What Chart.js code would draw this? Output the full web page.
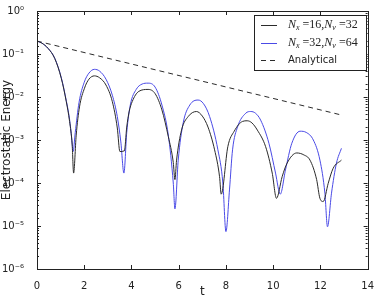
<!DOCTYPE html>
<html>
<head>
<meta charset="utf-8">
<script src="https://cdn.jsdelivr.net/npm/chart.js@4.4.0/dist/chart.umd.min.js"></script>
<style>
    html, body { margin: 0; padding: 0; background: #fff; }
    #caixa { width: 377px; height: 300px; }
</style>
</head>
<body>
<div id="caixa"><canvas id="energia"></canvas></div>
<script>
// dados (t, energia)
var tempoPreto = [0, 0.2, 0.47, 0.75, 1.03, 1.24, 1.38, 1.49, 1.55, 1.66, 1.80, 2.01, 2.2, 2.43, 2.65, 2.92, 3.19, 3.40, 3.51, 3.70, 3.80, 3.90, 4.03, 4.31, 4.7, 5.0, 5.29, 5.56, 5.77, 5.84, 5.91, 6.12, 6.40, 6.75, 7.0, 7.24, 7.52, 7.73, 7.80, 8.08, 8.35, 8.70, 8.9, 9.1, 9.33, 9.68, 9.96, 10.14, 10.38, 10.59, 11.0, 11.3, 11.56, 11.84, 11.98, 12.12, 12.33, 12.54, 12.89];
var energiaPreto = [0.2, 0.18, 0.135, 0.079, 0.027, 0.0078, 0.0027, 0.00076, 0.00017, 0.0013, 0.0059, 0.016, 0.026, 0.031, 0.028, 0.019, 0.0078, 0.0019, 0.00054, 0.00056, 0.002, 0.0045, 0.0078, 0.0135, 0.015, 0.012, 0.005, 0.0012, 0.0003, 0.00012, 0.00034, 0.0017, 0.0035, 0.0046, 0.0036, 0.002, 0.00059, 0.00014, 0.000055, 0.0007, 0.0016, 0.0027, 0.0028, 0.0025, 0.0017, 0.0007, 0.00017, 0.000044, 0.00014, 0.00029, 0.0005, 0.00045, 0.00034, 0.00012, 0.000044, 0.000037, 0.000098, 0.00022, 0.00034];

var tempoAzul = [0, 0.2, 0.47, 0.75, 1.03, 1.24, 1.38, 1.47, 1.53, 1.62, 1.78, 2.0, 2.2, 2.43, 2.65, 2.92, 3.19, 3.40, 3.55, 3.68, 3.80, 3.95, 4.2, 4.45, 4.7, 5.0, 5.29, 5.56, 5.77, 5.84, 5.98, 6.19, 6.47, 6.82, 7.05, 7.31, 7.66, 7.87, 8.0, 8.15, 8.28, 8.49, 8.84, 9.05, 9.25, 9.47, 9.82, 10.10, 10.3, 10.52, 10.79, 11.14, 11.4, 11.70, 11.98, 12.19, 12.30, 12.47, 12.68, 12.89];
var energiaAzul = [0.2, 0.18, 0.135, 0.08, 0.028, 0.0082, 0.003, 0.0011, 0.00054, 0.0015, 0.0075, 0.022, 0.036, 0.044, 0.04, 0.026, 0.011, 0.0035, 0.0009, 0.00017, 0.0015, 0.0065, 0.015, 0.02, 0.021, 0.017, 0.0065, 0.0013, 0.0001, 0.000025, 0.00034, 0.0025, 0.0065, 0.0085, 0.007, 0.0035, 0.00059, 0.0001, 0.0000074, 0.000069, 0.00059, 0.002, 0.0042, 0.0046, 0.0042, 0.0029, 0.00084, 0.00017, 0.000055, 0.0002, 0.00084, 0.0016, 0.0015, 0.001, 0.00034, 0.000058, 0.0000096, 0.000058, 0.00029, 0.00064];

var tempoAnalitico = [0, 12.9];
var energiaAnalitica = [0.2, 0.0038];

var legendas = ['Nx=16,Nv=32', 'Nx=32,Nv=64', 'Analytical'];

var corPreta = '#2b2b2b';
var corAzul = '#4a4ae6';

function juntar(xs, ys) {
    return xs.map(function (x, i) {
        return { x: x, y: ys[i] };
    });
}

var sobrescritos = { '-': '\u207B', '0': '\u2070', '1': '\u00B9', '2': '\u00B2', '3': '\u00B3', '4': '\u2074', '5': '\u2075', '6': '\u2076' };

function potencia(valor) {
    var l = Math.log10(valor);
    if (Math.abs(l - Math.round(l)) > 1e-6) return '';
    return '10' + String(Math.round(l)).split('').map(function (c) { return sobrescritos[c]; }).join('');
}

// moldura, ticks para dentro e legenda no estilo matplotlib
var moldura = {
    id: 'moldura',
    afterDraw: function (chart) {
        var ctx = chart.ctx;
        var a = chart.chartArea;
        var sx = chart.scales.x;
        var sy = chart.scales.y;
        ctx.save();
        ctx.strokeStyle = '#222';
        ctx.lineWidth = 1;
        ctx.beginPath();
        sx.ticks.forEach(function (t) {
            var px = Math.round(sx.getPixelForValue(t.value)) + 0.5;
            ctx.moveTo(px, a.bottom); ctx.lineTo(px, a.bottom - 4);
            ctx.moveTo(px, a.top); ctx.lineTo(px, a.top + 4);
        });
        sy.ticks.forEach(function (t) {
            var py = Math.round(sy.getPixelForValue(t.value)) + 0.5;
            var tam = potencia(t.value) ? 4 : 2;
            ctx.moveTo(a.left, py); ctx.lineTo(a.left + tam, py);
            ctx.moveTo(a.right, py); ctx.lineTo(a.right - tam, py);
        });
        ctx.stroke();
        ctx.strokeRect(Math.round(a.left) + 0.5, Math.round(a.top) + 0.5, Math.round(a.right - a.left), Math.round(a.bottom - a.top));

        // legenda
        var lx = 254, ly = 15, lw = 112, lh = 55;
        ctx.fillStyle = '#fff';
        ctx.fillRect(lx, ly, lw, lh);
        ctx.strokeStyle = '#222';
        ctx.strokeRect(lx + 0.5, ly + 0.5, lw, lh);

        var linhasY = [25, 43, 60];
        var cores = [corPreta, corAzul, corPreta];
        linhasY.forEach(function (y, i) {
            ctx.beginPath();
            ctx.strokeStyle = cores[i];
            ctx.setLineDash(i === 2 ? [5, 4] : []);
            ctx.moveTo(261, y + 0.5);
            ctx.lineTo(277, y + 0.5);
            ctx.stroke();
        });
        ctx.setLineDash([]);

        ctx.fillStyle = '#222';
        ctx.textBaseline = 'middle';
        escreverMat(ctx, 288, 25, '16', '32');
        escreverMat(ctx, 288, 43, '32', '64');
        ctx.font = '10px "DejaVu Sans"';
        ctx.fillText(legendas[2], 288, 60);
        ctx.restore();
    }
};

function escreverMat(ctx, x, y, nx, nv) {
    var partes = [
        ['N', 'italic 12px "Liberation Serif"', 0],
        ['x', 'italic 8px "Liberation Serif"', 3],
        [' =' + nx + ',', '12px "Liberation Serif"', 0],
        ['N', 'italic 12px "Liberation Serif"', 0],
        ['v', 'italic 8px "Liberation Serif"', 3],
        [' =' + nv, '12px "Liberation Serif"', 0]
    ];
    partes.forEach(function (p) {
        ctx.font = p[1];
        ctx.fillText(p[0], x, y + p[2]);
        x += ctx.measureText(p[0]).width;
    });
}

var graficoEnergia = null;
function plotarGrafico() {
    var ctx = document.getElementById('energia').getContext('2d');
    if (graficoEnergia !== null) {
        graficoEnergia.destroy();
    }

    graficoEnergia = new Chart(ctx, {
        type: 'line',
        data: {
            datasets: [{
                label: legendas[0],
                data: juntar(tempoPreto, energiaPreto),
                borderColor: corPreta,
                borderWidth: 1,
                pointRadius: 0,
                cubicInterpolationMode: 'monotone',
                fill: false
            }, {
                label: legendas[1],
                data: juntar(tempoAzul, energiaAzul),
                borderColor: corAzul,
                borderWidth: 1,
                pointRadius: 0,
                cubicInterpolationMode: 'monotone',
                fill: false
            }, {
                label: legendas[2],
                data: juntar(tempoAnalitico, energiaAnalitica),
                borderColor: corPreta,
                borderWidth: 1,
                borderDash: [5, 4],
                pointRadius: 0,
                fill: false
            }]
        },
        options: {
            responsive: true,
            maintainAspectRatio: false,
            animation: false,
            devicePixelRatio: 1,
            layout: { padding: { top: 11, right: 6, left: 0, bottom: 0 } },
            plugins: {
                legend: { display: false },
                tooltip: { enabled: false }
            },
            scales: {
                x: {
                    type: 'linear',
                    min: 0,
                    max: 14,
                    grid: { display: false },
                    border: { display: false },
                    ticks: {
                        stepSize: 2,
                        maxRotation: 0,
                        padding: 3,
                        color: '#222',
                        font: { family: 'DejaVu Sans', size: 10 }
                    },
                    title: {
                        display: true,
                        text: 't',
                        color: '#222',
                        padding: { top: 1, bottom: 1 },
                        font: { family: 'DejaVu Sans', size: 12 }
                    },
                    afterFit: function (s) { s.height = 31; }
                },
                y: {
                    type: 'logarithmic',
                    min: 1e-6,
                    max: 1,
                    grid: { display: false },
                    border: { display: false },
                    ticks: {
                        autoSkip: false,
                        padding: 5,
                        color: '#222',
                        font: { family: 'DejaVu Sans', size: 10 },
                        callback: function (v) { return potencia(v); }
                    },
                    title: {
                        display: true,
                        text: 'Electrostatic Energy',
                        color: '#222',
                        padding: { top: 0, bottom: 0 },
                        font: { family: 'DejaVu Sans', size: 12 }
                    },
                    afterFit: function (s) { s.width = 37; }
                }
            }
        },
        plugins: [moldura]
    });
}

plotarGrafico();
</script>
</body>
</html>
